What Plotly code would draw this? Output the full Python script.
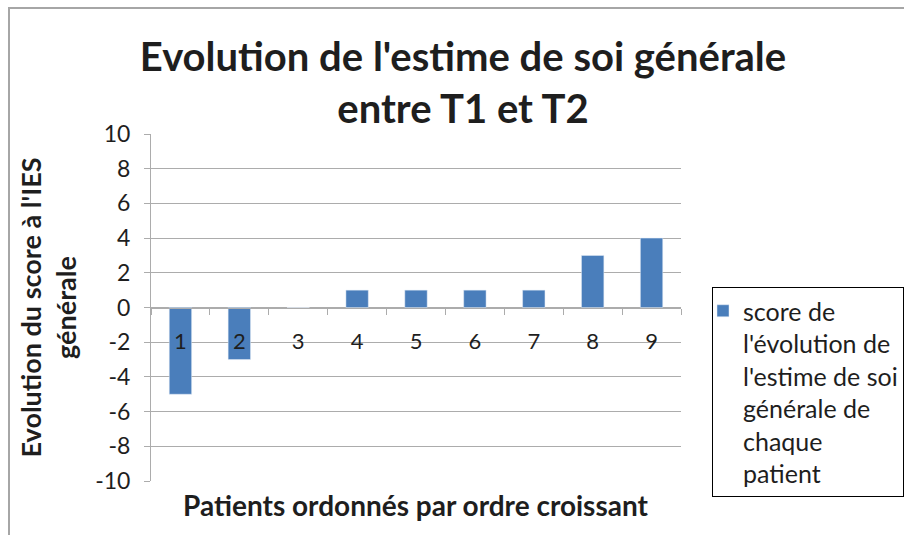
import plotly.graph_objects as go

categories = ["1", "2", "3", "4", "5", "6", "7", "8", "9"]
values = [-5, -3, 0, 1, 1, 1, 1, 3, 4]
y_ticks = [-10, -8, -6, -4, -2, 0, 2, 4, 6, 8, 10]
y_tick_labels = ["-10", "-8", "-6", "-4", "-2", "0", "2", "4", "6", "8", "10"]

title_text = "Evolution de l'estime de soi générale<br>entre T1 et T2"
ytitle_text = "Evolution du score à l'IES<br>générale"
xtitle = "Patients ordonnés par ordre croissant"
legend_name = "score de<br>l'évolution de<br>l'estime de soi<br>générale de<br>chaque<br>patient"

FONT = "Lato"
BAR = "#4A7EBB"
GRID = "#ACACAC"
TXT = "#1E1E1E"

fig = go.Figure()
fig.add_trace(go.Bar(
    x=categories, y=values, marker_color=BAR, width=0.38,
    name=legend_name, showlegend=True,
))

W, H = 904, 535
ml, mr, mt, mb = 151, 223, 134, 54
pw, ph = W - ml - mr, H - mt - mb

fig.update_layout(
    width=W, height=H,
    margin=dict(l=ml, r=mr, t=mt, b=mb, autoexpand=False),
    paper_bgcolor="white", plot_bgcolor="white",
    font=dict(family=FONT, color=TXT, size=22),
    title=dict(
        text=title_text,
        font=dict(family=FONT, size=40, color=TXT, weight="bold"),
        x=463 / W, xanchor="center", y=1 - 71 / H, yanchor="top",
    ),
    showlegend=True,
    legend=dict(
        x=(712 - ml) / pw, xanchor="left", y=(H - mb - 287) / ph, yanchor="top",
        bordercolor="#000000", borderwidth=1, bgcolor="white",
        font=dict(family=FONT, size=25, color=TXT), valign="top",
        itemwidth=30, indentation=-10,
    ),
    xaxis=dict(
        type="category", anchor="free", position=0.5,
        showgrid=False, showline=True, linecolor=GRID, linewidth=1,
        tickson="boundaries", ticks="outside", ticklen=6, tickcolor=GRID,
        tickfont=dict(family=FONT, size=22, color=TXT),
        ticklabelstandoff=14, zeroline=False,
    ),
    yaxis=dict(
        range=[-10, 10], tickvals=y_ticks, ticktext=y_tick_labels,
        showgrid=True, gridcolor=GRID,
        gridwidth=1, showline=True, linecolor=GRID, ticks="outside",
        ticklen=6, tickcolor=GRID, zeroline=False,
        tickfont=dict(family=FONT, size=23, color=TXT),
        ticklabelstandoff=9,
        title=dict(text=ytitle_text,
                   font=dict(family=FONT, size=27, color=TXT, weight="bold"),
                   standoff=10),
    ),
    annotations=[dict(
        text=xtitle, xref="paper", yref="paper",
        x=0.5, y=-(505 - (H - mb)) / ph, xanchor="center", yanchor="middle",
        showarrow=False, font=dict(family=FONT, size=28, color=TXT, weight="bold"),
    )],
    shapes=[dict(
        type="rect", xref="paper", yref="paper", layer="below",
        x0=(9 - ml) / pw, x1=2, y0=-1, y1=1 + (mt - 8) / ph,
        line=dict(color="#A6A6A6", width=2), fillcolor="rgba(0,0,0,0)",
    )],
)

fig.write_html("out.html", config={"displayModeBar": False},
               post_script="document.body.style.margin='0';")
